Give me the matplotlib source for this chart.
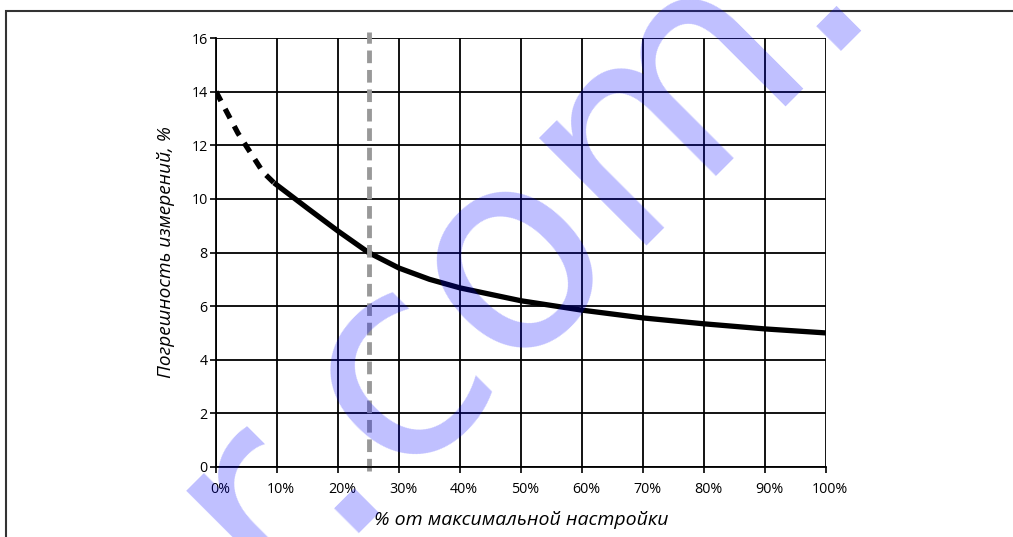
import matplotlib
matplotlib.use("Agg")
from matplotlib import pyplot as plt
from matplotlib.patches import Rectangle
from matplotlib.transforms import ScaledTranslation

# error curve
x_dashed = [0, 3.6, 7.7, 9.5]
y_dashed = [14.0, 12.45, 11.0, 10.6]
x_solid = [9.5, 15, 20, 25, 30, 35, 40, 50, 60, 70, 80, 90, 100]
y_solid = [10.6, 9.65, 8.8, 8.0, 7.42, 7.0, 6.68, 6.2, 5.85, 5.56, 5.34, 5.15, 5.0]
marker_x = 25

x_ticks = list(range(0, 101, 10))
x_tick_labels = [f"{v}%" for v in x_ticks]
y_ticks = list(range(0, 17, 2))

plt.rcParams["font.family"] = ["Open Sans", "DejaVu Sans"]

fig = plt.figure(figsize=(10.13, 5.37), dpi=100)
ax = fig.add_axes([216 / 1013, 1 - 467 / 537, 610 / 1013, 429 / 537])

ax.set_xlim(0, 100)
ax.set_ylim(0, 16)
ax.set_xticks(x_ticks)
ax.set_xticklabels(x_tick_labels)
ax.set_yticks(y_ticks)
ax.grid(True, color="black", linewidth=1.3)
ax.set_axisbelow(True)
for s in ["top", "right"]:
    ax.spines[s].set_visible(False)
for s in ["left", "bottom"]:
    ax.spines[s].set_linewidth(1.3)
ax.tick_params(axis="both", length=4, width=1.2, labelsize=10.3, colors="black")
ax.tick_params(axis="y", pad=2)
ax.tick_params(axis="x", pad=7)
shift = ScaledTranslation(4 / 100, 0, fig.dpi_scale_trans)
for lab in ax.get_xticklabels():
    lab.set_transform(lab.get_transform() + shift)

ax.plot(x_dashed, y_dashed, color="black", linewidth=3.8, linestyle=(0, (2.0, 1.7)), solid_capstyle="butt")
ax.plot(x_solid, y_solid, color="black", linewidth=3.8, solid_capstyle="butt")

ax.axvline(marker_x, ymin=-0.01, ymax=1.015, color="#999999", linewidth=3.5,
           linestyle=(0, (2.6, 1.4)), clip_on=False)

ax.set_xlabel("% от максимальной настройки", fontsize=14, style="italic", labelpad=10)
ax.set_ylabel("Погрешность измерений, %", fontsize=13.7, style="italic", labelpad=12)

# outer frame
fig.patches.append(Rectangle((6 / 1013, -0.05), 1.1, 1 - 11 / 537 + 0.05, transform=fig.transFigure,
                             fill=False, edgecolor="#333333", linewidth=1.5))

# watermark
fig.text(269 / 1013, 1 - 598 / 537, "r.com.", fontsize=200, color="blue", alpha=0.25,
         rotation=45, rotation_mode="anchor", ha="left", va="baseline", family="DejaVu Sans")

fig.savefig("out.png", dpi=100)
